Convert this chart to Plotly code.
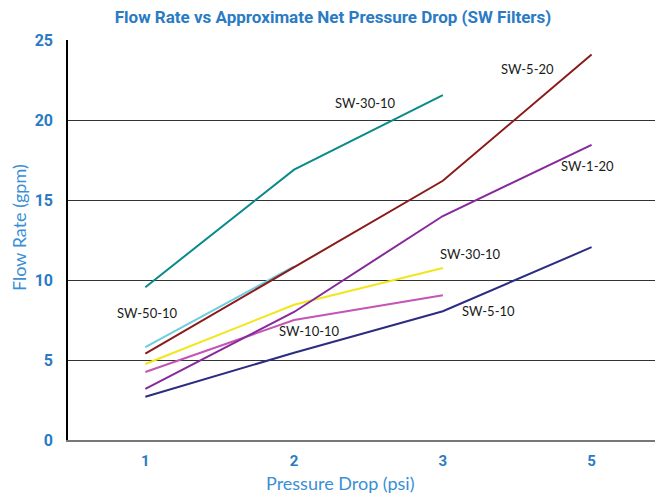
import plotly.graph_objects as go

pressure = ["1", "2", "3", "5"]
series_names = ["SW-30-10 (teal)", "SW-50-10", "SW-5-20", "SW-30-10", "SW-10-10", "SW-1-20", "SW-5-10"]
teal_vals = [9.55, 16.9, 21.55]
cyan_vals = [5.8, 10.85]
darkred_vals = [5.4, 10.8, 16.2, 24.1]
yellow_vals = [4.75, 8.45, 10.75]
pink_vals = [4.25, 7.5, 9.05]
purple_vals = [3.2, 8.0, 14.0, 18.45]
navy_vals = [2.7, 5.45, 8.05, 12.05]

colors = ["#0a8a8a", "#6ccde0", "#8b1a1a", "#f2e61a", "#c455b4", "#86299a", "#2b2d80"]
values = [teal_vals, cyan_vals, darkred_vals, yellow_vals, pink_vals, purple_vals, navy_vals]

labels = ["SW-30-10", "SW-5-20", "SW-1-20", "SW-30-10", "SW-5-10", "SW-50-10", "SW-10-10"]
label_x = [1.477, 2.57, 2.974, 2.185, 2.306, 0.013, 1.106]
label_y = [21.06, 23.2, 17.1, 11.6, 8.06, 7.94, 6.8]

# page body has an 8px margin: the figure starts at (8, 8) in the window
W, H = 655, 488
L, T, B = 60, 32, 56
PW = W - L
fig = go.Figure()
for name, col, v in zip(series_names, colors, values):
    fig.add_trace(go.Scatter(x=pressure[:len(v)], y=v, mode="lines",
                             line=dict(color=col, width=2), name=name,
                             showlegend=False))

for t, x, y in zip(labels, label_x, label_y):
    fig.add_annotation(x=x, y=y, xref="x", yref="y", text=t, showarrow=False,
                       font=dict(family="Lato, DejaVu Sans", size=13, color="#1a1a1a"))

blue = "#2a7bc4"
lblue = "#3a8fd4"
fig.add_annotation(text="Flow Rate (gpm)", textangle=-90, xref="paper", yref="paper",
                   x=(19 - 8 - L) / PW, y=1 - (228 - 40) / 400.0,
                   xanchor="center", yanchor="middle", showarrow=False,
                   font=dict(family="Lato, Arial", size=18, color=lblue))
fig.add_annotation(text="Pressure Drop (psi)", xref="paper", yref="paper",
                   x=(340 - 68) / PW, y=-(483 - 440) / 400.0,
                   xanchor="center", yanchor="middle", showarrow=False,
                   font=dict(family="Lato, Arial", size=18, color=lblue))

fig.update_layout(
    width=W, height=H,
    margin=dict(l=L, r=0, t=T, b=B),
    plot_bgcolor="white", paper_bgcolor="white",
    title=dict(text="<b>Flow Rate vs Approximate Net Pressure Drop (SW Filters)</b>",
               x=(333 - 8) / W, xanchor="center", y=1 - 3.0 / H, yanchor="top",
               pad=dict(t=0, b=0, l=0, r=0), automargin=False,
               font=dict(family="Roboto, Arial", size=17, color=blue)),
    xaxis=dict(type="category", range=[-0.52, 3.48], showgrid=False, automargin=False,
               showline=True, linecolor="#777777", linewidth=2, ticks="",
               ticklabelstandoff=6,
               tickfont=dict(family="Roboto, Arial", size=15, color=blue, weight="bold")),
    yaxis=dict(range=[0, 25], dtick=5, showgrid=True, gridcolor="#333333", gridwidth=1,
               zeroline=False, showline=True, linecolor="black", linewidth=1.5, ticks="",
               ticklabelstandoff=10, automargin=False,
               tickfont=dict(family="Roboto, Arial", size=16, color=blue, weight="bold")),
)

fig.write_html("out.html")
